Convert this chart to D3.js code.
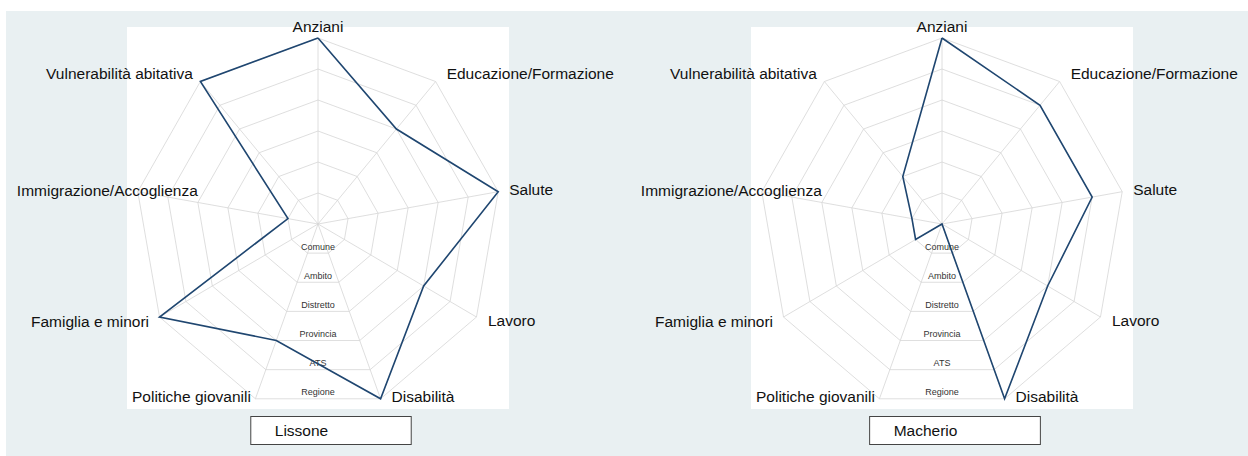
<!DOCTYPE html>
<html>
<head>
<meta charset="utf-8">
<script src="https://cdn.jsdelivr.net/npm/d3@7"></script>
<style>
  body { margin: 0; background: #fff; }
  svg { display: block; font-family: "Liberation Sans", Arial, sans-serif; }
</style>
</head>
<body>
<div id="chart"></div>
<script>
// axes of the radar, clockwise from the top
var axes = ["Anziani", "Educazione/Formazione", "Salute", "Lavoro", "Disabilità",
            "Politiche giovanili", "Famiglia e minori", "Immigrazione/Accoglienza", "Vulnerabilità abitativa"];
// rings (level 1..6)
var levels = ["Comune", "Ambito", "Distretto", "Provincia", "ATS", "Regione"];
var places = ["Lissone", "Macherio"];
var lissone  = [6, 4, 6, 4, 6, 4, 6, 1, 6];
var macherio = [6, 5, 5, 4, 6, 0, 1, 1, 2];
var series = [lissone, macherio];

var W = 1248, H = 456;
var svg = d3.select("#chart").append("svg")
  .attr("width", W)
  .attr("height", H);

// light bluish background
svg.append("rect")
  .attr("x", 6).attr("y", 11)
  .attr("width", W - 6).attr("height", H - 11)
  .attr("fill", "#e9f0f2");

// label placement per axis: anchor, dx, dy from the outer vertex
var labelPos = [
  {a: "middle", dx: 0, dy: -10},
  {a: "start", dx: 11, dy: -6.5},
  {a: "start", dx: 11, dy: -1},
  {a: "start", dx: 11.5, dy: 5},
  {a: "start", dx: 11, dy: -1},
  {a: "end", dx: -4.5, dy: -1},
  {a: "end", dx: -10.5, dy: 6},
  {a: "end", dx: 60, dy: 0},
  {a: "end", dx: -7.5, dy: -6.5}
];

var rx = d3.scaleLinear().domain([0, levels.length]).range([0, 183]);
var ry = d3.scaleLinear().domain([0, levels.length]).range([0, 186]);
var angle = d3.scaleLinear().domain([0, axes.length]).range([0, 2 * Math.PI]);

places.forEach(function(place, i) {
  var cx = 318 + 624 * i, cy = 224;
  var g = svg.append("g");

  function px(v, k) { return cx + rx(v) * Math.sin(angle(k)); }
  function py(v, k) { return cy - ry(v) * Math.cos(angle(k)); }

  // white plot region
  g.append("rect")
    .attr("x", cx - 191).attr("y", 27)
    .attr("width", 382).attr("height", 382)
    .attr("fill", "#fff");

  var ring = d3.line()
    .x(function(d) { return px(d.v, d.k); })
    .y(function(d) { return py(d.v, d.k); });

  // grid rings
  d3.range(1, levels.length + 1).forEach(function(l) {
    var pts = axes.map(function(a, k) { return {v: l, k: k}; });
    pts.push(pts[0]);
    g.append("path")
      .attr("d", ring(pts))
      .attr("fill", "none")
      .attr("stroke", "#d6d6d6")
      .attr("stroke-width", 0.8);
  });

  // spokes
  g.selectAll(".spoke")
    .data(axes)
    .enter().append("line")
      .attr("x1", cx).attr("y1", cy)
      .attr("x2", function(d, k) { return px(levels.length, k); })
      .attr("y2", function(d, k) { return py(levels.length, k); })
      .attr("stroke", "#d6d6d6")
      .attr("stroke-width", 0.8);

  // level labels down the bottom gap
  g.selectAll(".lvl")
    .data(levels)
    .enter().append("text")
      .attr("x", cx)
      .attr("y", function(d, l) { return cy + ry(l + 1) * Math.cos(Math.PI / axes.length) - 6; })
      .attr("text-anchor", "middle")
      .attr("dominant-baseline", "middle")
      .attr("font-size", "9px")
      .attr("fill", "#333")
      .text(function(d) { return d; });

  // axis labels
  g.selectAll(".axlab")
    .data(axes)
    .enter().append("text")
      .attr("x", function(d, k) { return px(levels.length, k) + labelPos[k].dx; })
      .attr("y", function(d, k) { return py(levels.length, k) + labelPos[k].dy; })
      .attr("text-anchor", function(d, k) { return labelPos[k].a; })
      .attr("dominant-baseline", "middle")
      .attr("font-size", "15.5px")
      .attr("fill", "#111")
      .text(function(d) { return d; });

  // data line
  var pts = series[i].map(function(v, k) { return {v: v, k: k}; });
  pts.push(pts[0]);
  g.append("path")
    .attr("d", ring(pts))
    .attr("fill", "none")
    .attr("stroke", "#1f4670")
    .attr("stroke-width", 1.6)
    .attr("stroke-linejoin", "miter");

  // legend box
  var lg = g.append("g");
  var box = lg.append("rect");
  var txt = lg.append("text")
    .attr("y", 432)
    .attr("dominant-baseline", "middle")
    .attr("font-size", "15.5px")
    .attr("fill", "#111")
    .text(place);
  var tw = txt.node().getComputedTextLength();
  var bw = tw + 107, bx = cx + 13 - bw / 2;
  txt.attr("x", bx + 24);
  box.attr("x", bx).attr("y", 416.5)
    .attr("width", bw).attr("height", 28)
    .attr("fill", "#fff")
    .attr("stroke", "#444")
    .attr("stroke-width", 1);
});
</script>
</body>
</html>
